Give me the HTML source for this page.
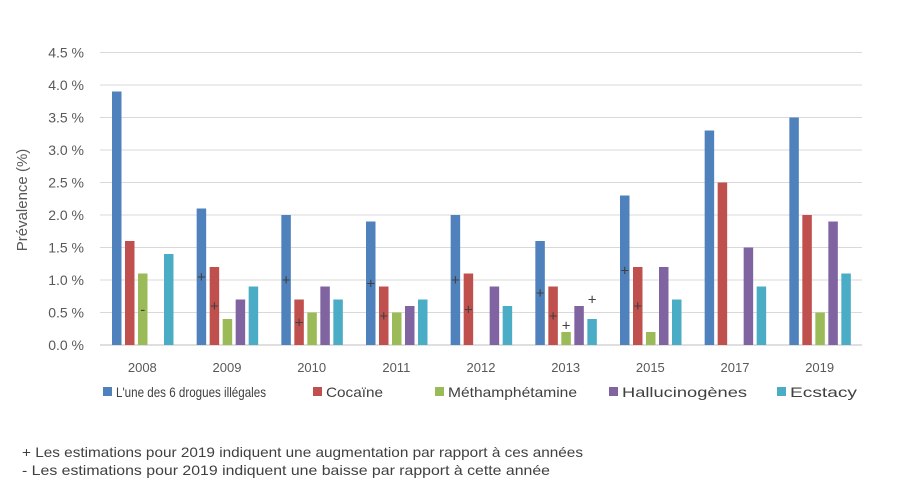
<!DOCTYPE html>
<html><head><meta charset="utf-8"><style>
body{margin:0;background:#fff;font-family:"Liberation Sans",sans-serif;}
svg text{font-family:"Liberation Sans",sans-serif;fill:#595959;}
</style></head><body>
<svg width="900" height="482" viewBox="0 0 900 482">
<g id="grid"></g><g id="bars"></g><g id="marks"></g><g id="axis"></g><g id="legend"></g>
<text x="27" y="200" font-size="15" text-anchor="middle" transform="rotate(-90 27 200)">Prévalence (%)</text>
<text x="22" y="457" font-size="14" textLength="561" lengthAdjust="spacingAndGlyphs" style="fill:#404040">+ Les estimations pour 2019 indiquent une augmentation par rapport à ces années</text>
<text x="22" y="475" font-size="14" textLength="528" lengthAdjust="spacingAndGlyphs" style="fill:#404040">- Les estimations pour 2019 indiquent une baisse par rapport à cette année</text>
</svg>
<script>
const categories=["2008","2009","2010","2011","2012","2013","2015","2017","2019"];
const seriesNames=["L'une des 6 drogues illégales","Cocaïne","Méthamphétamine","Hallucinogènes","Ecstacy"];
const drugs=[3.9,2.1,2.0,1.9,2.0,1.6,2.3,3.3,3.5];
const cocaine=[1.6,1.2,0.7,0.9,1.1,0.9,1.2,2.5,2.0];
const meth=[1.1,0.4,0.5,0.5,null,0.2,0.2,null,0.5];
const halluc=[null,0.7,0.9,0.6,0.9,0.6,1.2,1.5,1.9];
const ecstacy=[1.4,0.9,0.7,0.7,0.6,0.4,0.7,0.9,1.1];
const yTicks=[0,0.5,1,1.5,2,2.5,3,3.5,4,4.5];
const yTickLabels=["0.0 %","0.5 %","1.0 %","1.5 %","2.0 %","2.5 %","3.0 %","3.5 %","4.0 %","4.5 %"];
// markers: [categoryIndex, seriesIndex, value position, symbol]
const markers=[[0,2,0.55,"-"],[1,0,1.05,"+"],[1,1,0.6,"+"],[2,0,1.0,"+"],[2,1,0.35,"+"],[3,0,0.95,"+"],[3,1,0.45,"+"],[4,0,1.0,"+"],[4,1,0.55,"+"],[5,0,0.8,"+"],[5,1,0.45,"+"],[5,2,0.3,"+"],[5,4,0.7,"+"],[6,0,1.15,"+"],[6,1,0.6,"+"]];
const colors=["#4f81bd","#c0504d","#9bbb59","#8064a2","#4bacc6"];
const series=[drugs,cocaine,meth,halluc,ecstacy];
const NS="http://www.w3.org/2000/svg";
const x0=100,x1=862,yBase=345,pxPer=65.0;
const bw=(x1-x0)/categories.length;
const y=v=>yBase-v*pxPer;
const bx=(c,s)=>x0+c*bw+12+s*13;
function mk(t,a,p){const e=document.createElementNS(NS,t);for(const k in a)e.setAttribute(k,a[k]);document.getElementById(p).appendChild(e);return e;}
yTicks.forEach((t,i)=>{
 const l=mk("line",{x1:x0,x2:x1,y1:y(t),y2:y(t),stroke:i==0?"#bfbfbf":"#d9d9d9","stroke-width":1},"grid");
 
 
 const tx=mk("text",{x:84,y:y(t)+5,"text-anchor":"end","font-size":14},"axis");
 tx.textContent=yTickLabels[i];
 
 
});
categories.forEach((c,i)=>{
 const tx=mk("text",{x:x0+(i+0.5)*bw,y:372,"text-anchor":"middle","font-size":13},"axis");
 tx.textContent=c;
 
 
});
series.forEach((arr,s)=>arr.forEach((v,c)=>{
 if(v==null)return;
 const r=mk("rect",{x:bx(c,s),y:y(v),width:9.5,height:v*pxPer,fill:colors[s]},"bars");
 
 
}));
markers.forEach(m=>{
 const t=mk("text",{x:bx(m[0],m[1])+4.75,y:y(m[2])+5,"text-anchor":"middle","font-size":15,style:"fill:#404040"},"marks");
 t.textContent=m[3];
 
 
});
const lx=[103,313,435,609,777];
const lw=[150,57,129,125,67];
seriesNames.forEach((n,i)=>{
 const r=mk("rect",{x:lx[i],y:387,width:9,height:9,fill:colors[i]},"legend");
 
 
 const t=mk("text",{x:lx[i]+13,y:397,"font-size":14,textLength:lw[i],lengthAdjust:"spacingAndGlyphs",style:"fill:#404040"},"legend");
 t.textContent=n;
 
 
});
</script>
</body></html>
